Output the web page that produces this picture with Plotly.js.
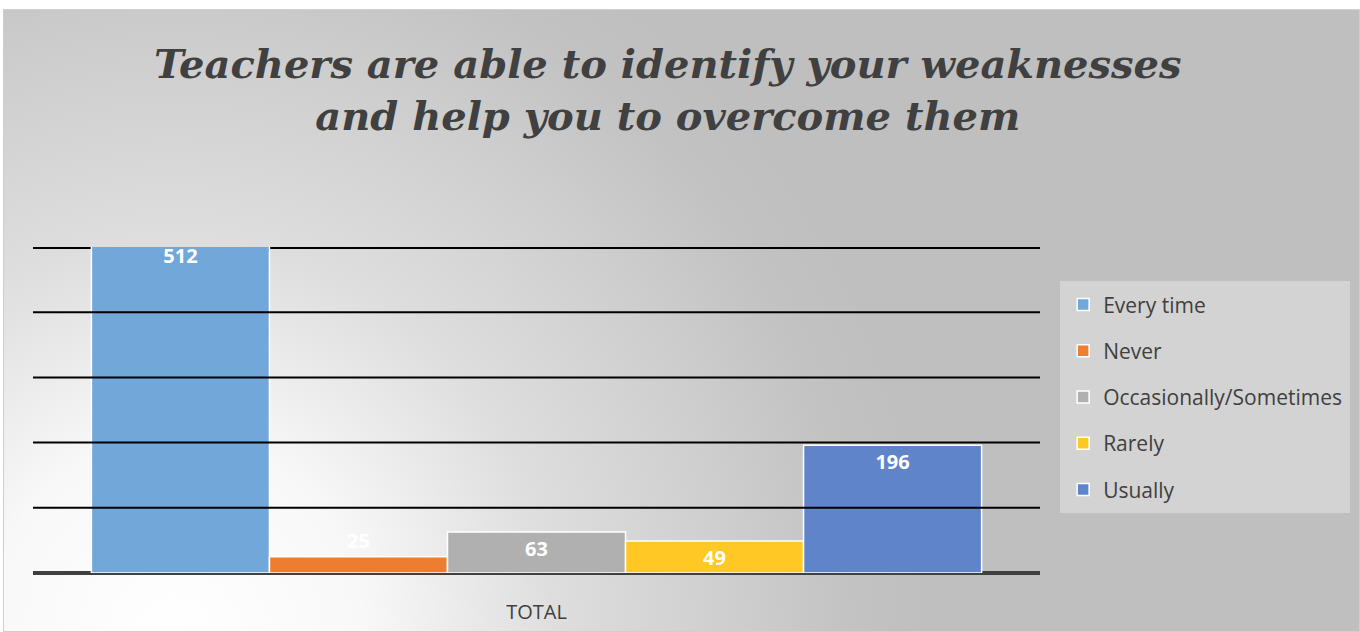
<!DOCTYPE html>
<html>
<head>
<meta charset="utf-8">
<script src="https://cdn.plot.ly/plotly-3.0.1.min.js"></script>
<style>
  html, body { margin: 0; padding: 0; background: #ffffff; }
  #bg {
    position: absolute; left: 3px; top: 9px; width: 1355px; height: 621px;
    border: 1px solid #cfcfcf;
    background: radial-gradient(ellipse 760px 800px at 170px 630px,
      #ffffff 0%, #f8f8f8 25%, #dedede 50%, #cdcdcd 75%, #c2c2c2 90%, #bfbfbf 100%);
  }
  #chart { position: absolute; left: 0; top: 0; width: 1360px; height: 632px; }
</style>
</head>
<body>
<div id="bg"></div>
<div id="chart"></div>
<script>
// ---- data ----
const categories = ["TOTAL"];
const seriesNames = ["Every time", "Never", "Occasionally/Sometimes", "Rarely", "Usually"];
const seriesValues = [512, 25, 63, 49, 196];
const seriesColors = ["#72A7DA", "#EC7D31", "#B0B0B0", "#FFC824", "#5F84CA"];
const yTicks = [0, 100, 200, 300, 400, 500];
const titleText = "Teachers are able to identify your weaknesses<br>and help you to overcome them";

const traces = seriesNames.map((name, i) => ({
  type: "bar",
  name: name,
  legendgroup: name,
  x: categories,
  y: [seriesValues[i]],
  text: [String(seriesValues[i])],
  textposition: "auto",
  insidetextanchor: "end",
  textangle: 0,
  textfont: { family: "Open Sans", size: 20, color: "#ffffff", weight: "bold" },
  outsidetextfont: { family: "Open Sans", size: 20, color: "#ffffff", weight: "bold" },
  marker: { color: seriesColors[i], line: { color: "#ffffff", width: 1.5 } },
  hoverinfo: "name+y"
}));

const yMax = yTicks[yTicks.length - 1];
const gridShapes = yTicks.slice(1).map(v => ({
  type: "line", xref: "paper", x0: 0, x1: 1, yref: "y", y0: v, y1: v,
  line: { color: "#000000", width: v === yMax ? 4 : 2 },
  layer: v === yMax ? "below" : "above"
}));

const layout = {
  width: 1360, height: 632,
  paper_bgcolor: "rgba(0,0,0,0)",
  plot_bgcolor: "rgba(0,0,0,0)",
  margin: { l: 33, r: 320, t: 247, b: 59, autoexpand: false },
  title: {
    text: titleText,
    x: 0.491, xanchor: "center", xref: "container",
    y: 0.876, yanchor: "top", yref: "container",
    font: { family: "DejaVu Serif", size: 40, color: "#404040", style: "italic", weight: "bold" }
  },
  barmode: "group",
  bargap: 0.116,
  bargroupgap: 0,
  xaxis: {
    type: "category",
    showgrid: false, showline: false, zeroline: false,
    ticks: "",
    ticklabelstandoff: 25,
    tickfont: { family: "Open Sans", size: 20, color: "#404040" }
  },
  yaxis: {
    range: [yTicks[0], yMax],
    tickvals: yTicks,
    showticklabels: false,
    showgrid: false,
    zeroline: true, zerolinecolor: "#404040", zerolinewidth: 4,
    showline: false, ticks: ""
  },
  shapes: gridShapes,
  showlegend: true,
  legend: {
    x: 1.020, xanchor: "left", y: 0.895, yanchor: "top",
    bgcolor: "#d3d3d3",
    bordercolor: "#d3d3d3",
    borderwidth: 3,
    font: { family: "Open Sans", size: 21, color: "#404040" },
    tracegroupgap: 16,
    itemwidth: 30,
    traceorder: "grouped"
  },
  uniformtext: { mode: "show", minsize: 20 }
};

Plotly.newPlot("chart", traces, layout, { displayModeBar: false, staticPlot: true });
</script>
</body>
</html>
